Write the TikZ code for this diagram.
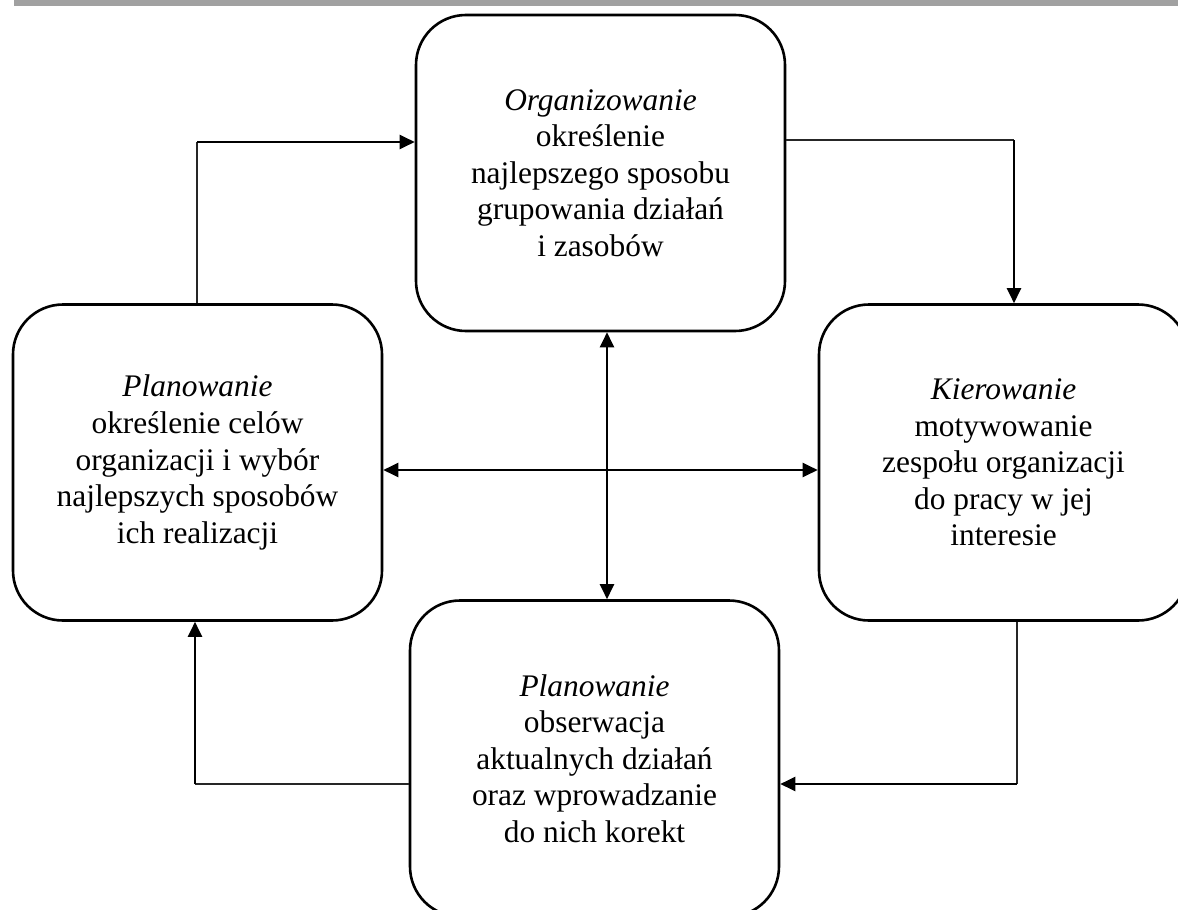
\documentclass[tikz,border=0pt]{standalone}
\usepackage{fontspec}
\setmainfont{Liberation Serif}
\usetikzlibrary{arrows.meta}
\tikzset{
    stage-box/.style = {draw=black, fill=white, line width=1.3pt, rectangle, rounded corners=25pt, minimum width=184.5pt, minimum height=158pt, align=center, inner sep=0pt, font=\fontsize{15.7pt}{18.3pt}\selectfont},
    flow-thin/.style = {draw=black!85, line width=0.6pt},
    flow-arrow/.style = {draw=black, line width=1.1pt, -{Triangle[length=7.5pt,width=7pt]}},
    flow-both/.style = {draw=black, line width=1.1pt, {Triangle[length=7.5pt,width=7pt]}-{Triangle[length=7.5pt,width=7pt]}},
}

\begin{document}
\begin{tikzpicture}[x=0.5pt, y=-0.5pt]
\useasboundingbox (0,0) rectangle (1178,910);
\clip (0,0) rectangle (1178,910);
\fill[black!37] (14,0) rectangle (1178,6);

\node [stage-box] (org) at (600.5,173) {\textit{Organizowanie}\\ określenie\\ najlepszego sposobu\\ grupowania działań\\ i zasobów};
\node [stage-box] (plan) at (197.5,462.5) {\textit{Planowanie}\\ określenie celów\\ organizacji i wybór\\ najlepszych sposobów\\ ich realizacji};
\node [stage-box] (kier) at (1003.5,462.5) {\textit{Kierowanie}\\ motywowanie\\ zespołu organizacji\\ do pracy w jej\\ interesie};
\node [stage-box] (kontr) at (594.5,758.5) {\textit{Planowanie}\\ obserwacja\\ aktualnych działań\\ oraz wprowadzanie\\ do nich korekt};

\coordinate (c-up) at (197,142);
\coordinate (c-right) at (1014,140);
\coordinate (c-down) at (1017,784);
\coordinate (c-back) at (195,784);
\coordinate (c-mid) at (607,470);

\draw[flow-thin] (plan.north -| c-up) -- (c-up);
\draw[flow-arrow] (c-up) -- (c-up -| org.west);
\draw[flow-thin] (c-right -| org.east) -- (c-right);
\draw[flow-arrow] (c-right) -- (c-right |- kier.north);
\draw[flow-thin] (kier.south -| c-down) -- (c-down);
\draw[flow-arrow] (c-down) -- (c-down -| kontr.east);
\draw[flow-thin] (c-back -| kontr.west) -- (c-back);
\draw[flow-arrow] (c-back) -- (c-back |- plan.south);

\draw[flow-both] (org.south -| c-mid) -- (kontr.north -| c-mid);
\draw[flow-both] (plan.east |- c-mid) -- (kier.west |- c-mid);
\end{tikzpicture}
\end{document}
